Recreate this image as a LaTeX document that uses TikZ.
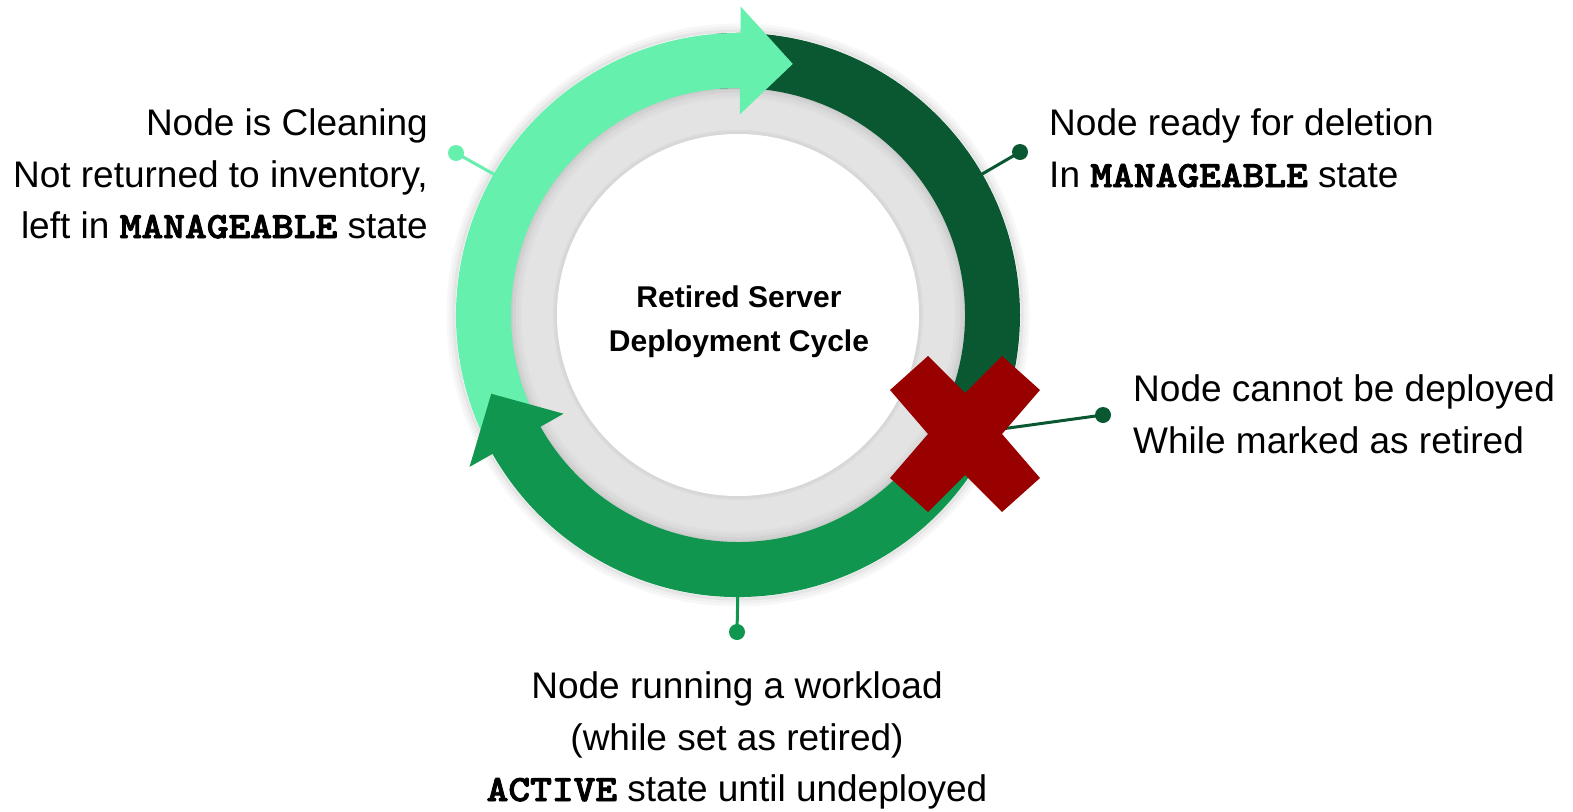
\documentclass[tikz,border=0pt]{standalone}
\usepackage{fontspec}
\setmainfont{Liberation Sans}
\newfontfamily\codefont{lmmonolt10-bold.otf}[FakeStretch=1.12, FakeBold=2.5]
\usetikzlibrary{calc}

\definecolor{lightg}{HTML}{66F0AE}
\definecolor{darkg}{HTML}{0A5832}
\definecolor{midg}{HTML}{11964F}
\definecolor{ringgray}{HTML}{E3E3E3}
\definecolor{xred}{HTML}{990000}

\newcommand{\code}[1]{{\codefont #1}}

\tikzset{
  label/.style={inner sep=0pt, font=\fontsize{37}{52}\selectfont},
  title/.style={inner sep=0pt, font=\fontsize{30}{44}\selectfont\bfseries},
  pin/.style={circle, inner sep=0pt, minimum size=16pt},
  leader/.style={line width=3pt},
}

\begin{document}
\begin{tikzpicture}[x=1pt, y=-1pt]
\useasboundingbox (0,0) rectangle (1573,811);
\coordinate (c) at (738,315);

% backdrop disks with soft edges
\fill[ringgray] (c) circle[radius=240pt];
\foreach \r/\o in {227/0.10,224/0.07,221/0.04,218/0.02}
  \draw[black, opacity=\o, line width=3pt] (c) circle[radius=\r pt];
\foreach \r/\o in {182/0.05,184/0.03}
  \draw[black, opacity=\o, line width=2pt] (c) circle[radius=\r pt];
\fill[white] (c) circle[radius=181pt];
\foreach \r/\o in {284/0.10,287/0.06,290/0.03}
  \draw[black, opacity=\o, line width=3pt] (c) circle[radius=\r pt];

% pins and leaders (drawn below the ring)
\node[pin, fill=lightg] (p1) at (456,153) {};
\node[pin, fill=darkg]  (p2) at (1020,152) {};
\node[pin, fill=darkg]  (p3) at (1103,415) {};
\node[pin, fill=midg]   (p4) at (737,632) {};
\coordinate (r1) at ($(c)+(150:270pt)$);
\coordinate (r2) at ($(c)+(30:270pt)$);
\coordinate (r4) at ($(c)+(-90:270pt)$);
\coordinate (xm) at (965,434);
\draw[leader, lightg] (p1.center) -- (r1);
\draw[leader, darkg]  (p2.center) -- (r2);
\draw[leader, darkg]  (p3.center) -- (xm);
\draw[leader, midg]   (p4.center) -- (r4);

% ring: dark segment (top right)
\fill[darkg] ($(c)+(95:282pt)$) arc[start angle=95, end angle=-27, radius=282pt]
  -- ($(c)+(-27:227pt)$) arc[start angle=-27, end angle=95, radius=227pt] -- cycle;

% ring: light arrow (left to top)
\fill[lightg] ($(c)+(212:282pt)$) arc[start angle=212, end angle=89.5, radius=282pt]
  -- ($(c)+(89.5:308.5pt)$) -- ($(c)+(77.7:257pt)$) -- ($(c)+(89.5:200.5pt)$)
  -- ($(c)+(89.5:227pt)$) arc[start angle=89.5, end angle=212, radius=227pt] -- cycle;

% ring: medium arrow (right, through bottom, to left)
\fill[midg] ($(c)+(-27:282pt)$) arc[start angle=-27, end angle=-150.5, radius=282pt]
  -- ($(c)+(-150.5:308.5pt)$) -- ($(c)+(-162.3:259pt)$) -- ($(c)+(-150.5:200.5pt)$)
  -- ($(c)+(-150.5:227pt)$) arc[start angle=-150.5, end angle=-27, radius=227pt] -- cycle;

% cross mark
\fill[xred] ($(xm)+(-37,-78)$) -- ($(xm)+(0,-41)$) -- ($(xm)+(37,-78)$)
  -- ($(xm)+(75,-44)$) -- ($(xm)+(37,0)$) -- ($(xm)+(75,44)$)
  -- ($(xm)+(37,78)$) -- ($(xm)+(0,41)$) -- ($(xm)+(-37,78)$)
  -- ($(xm)+(-75,44)$) -- ($(xm)+(-37,0)$) -- ($(xm)+(-75,-44)$) -- cycle;

% centre title
\node[title, anchor=base] (t1) at (739,307) {Retired Server};
\node[title, anchor=base] (t2) at (739,351) {Deployment Cycle};

% cleaning
\node[label, anchor=base east] (a1) at (428,135) {Node is Cleaning};
\node[label, anchor=base east] (a2) at (428,187) {Not returned to inventory,};
\node[label, anchor=base east] (a3) at (428,238) {left in \code{MANAGEABLE} state};

% ready for deletion
\node[label, anchor=base west] (b1) at (1049,135) {Node ready for deletion};
\node[label, anchor=base west] (b2) at (1049,187) {In \code{MANAGEABLE} state};

% cannot be deployed
\node[label, anchor=base west] (d1) at (1133,401) {Node cannot be deployed};
\node[label, anchor=base west] (d2) at (1133,453) {While marked as retired};

% running a workload
\node[label, anchor=base] (e1) at (737,698) {Node running a workload};
\node[label, anchor=base] (e2) at (737,750) {(while set as retired)};
\node[label, anchor=base] (e3) at (737,801) {\code{ACTIVE} state until undeployed};
\end{tikzpicture}
\end{document}
